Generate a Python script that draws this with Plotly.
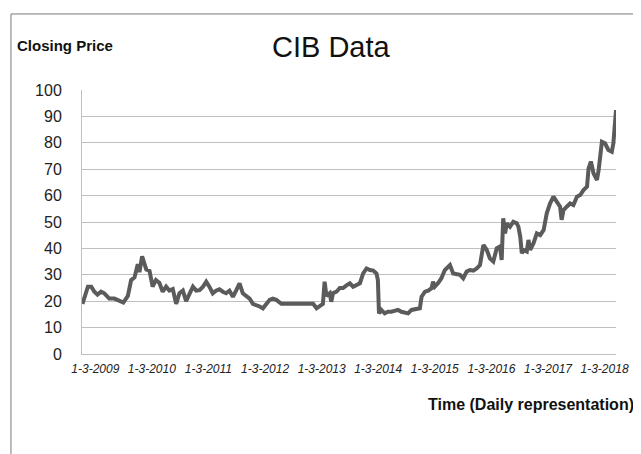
import plotly.graph_objects as go

dates = [
    "2008-12-08", "2009-01-12", "2009-02-03", "2009-02-23", "2009-03-15", "2009-04-07", "2009-04-28",
    "2009-05-30", "2009-07-02", "2009-08-04", "2009-08-29", "2009-09-27", "2009-10-18", "2009-11-09",
    "2009-11-30", "2009-12-11", "2009-12-28", "2010-01-24", "2010-02-14", "2010-03-06", "2010-03-27",
    "2010-04-18", "2010-05-10", "2010-06-01", "2010-06-22", "2010-07-14", "2010-08-05", "2010-08-26",
    "2010-09-17", "2010-10-08", "2010-10-30", "2010-11-21", "2010-12-12", "2011-01-03", "2011-01-25",
    "2011-02-15", "2011-03-07", "2011-03-29", "2011-04-19", "2011-05-11", "2011-06-02", "2011-06-23",
    "2011-07-15", "2011-08-06", "2011-08-27", "2011-09-18", "2011-10-09", "2011-11-01", "2011-11-22",
    "2011-12-13", "2012-01-05", "2012-01-26", "2012-02-16", "2012-03-08", "2012-03-30", "2012-04-20",
    "2012-05-12", "2012-06-14", "2012-08-07", "2012-09-19", "2012-11-12", "2013-01-05", "2013-01-27",
    "2013-02-21", "2013-03-09", "2013-03-20", "2013-04-01", "2013-04-22", "2013-05-02", "2013-05-13",
    "2013-06-05", "2013-06-26", "2013-07-17", "2013-08-08", "2013-08-30", "2013-09-20", "2013-10-12",
    "2013-11-03", "2013-11-24", "2013-12-16", "2014-01-07", "2014-01-28", "2014-02-18", "2014-02-27",
    "2014-03-06", "2014-03-21", "2014-04-12", "2014-05-03", "2014-05-25", "2014-06-15", "2014-07-07",
    "2014-07-29", "2014-08-20", "2014-09-10", "2014-10-02", "2014-11-04", "2014-11-25", "2014-12-06",
    "2014-12-28", "2015-01-18", "2015-02-09", "2015-02-18", "2015-03-01", "2015-03-22", "2015-04-13",
    "2015-05-05", "2015-06-07", "2015-06-28", "2015-07-20", "2015-08-11", "2015-09-01", "2015-09-23",
    "2015-10-14", "2015-11-05", "2015-11-27", "2015-12-18", "2016-01-09", "2016-01-31", "2016-02-20",
    "2016-03-13", "2016-04-04", "2016-04-25", "2016-05-06", "2016-05-16", "2016-05-28", "2016-06-08",
    "2016-06-29", "2016-07-20", "2016-08-12", "2016-08-22", "2016-09-03", "2016-09-13", "2016-09-24",
    "2016-10-15", "2016-10-26", "2016-11-06", "2016-11-27", "2016-12-19", "2017-01-10", "2017-02-01",
    "2017-02-21", "2017-03-14", "2017-04-05", "2017-04-26", "2017-05-18", "2017-05-28", "2017-06-09",
    "2017-06-30", "2017-07-22", "2017-08-12", "2017-09-04", "2017-09-25", "2017-10-16", "2017-11-08",
    "2017-11-18", "2017-12-03", "2017-12-20", "2018-01-11", "2018-01-22", "2018-02-12", "2018-03-04",
    "2018-03-26", "2018-04-17", "2018-04-27", "2018-05-08", "2018-05-14",
]

closing_price = [
    19.0, 25.5, 25.5, 23.6, 22.5, 23.6, 23.0,
    21.0, 21.0, 20.3, 19.5, 22.0, 28.0, 29.0,
    34.0, 31.0, 37.0, 32.0, 31.5, 25.5, 28.0,
    27.0, 23.6, 25.5, 24.0, 24.6, 19.0, 23.0,
    24.0, 20.0, 23.0, 25.5, 24.0, 24.2, 25.5,
    27.4, 25.5, 23.0, 24.0, 24.5, 23.6, 23.0,
    24.0, 21.7, 24.0, 26.8, 23.0, 21.7, 21.0,
    19.0, 18.6, 18.0, 17.3, 19.0, 20.5, 21.0,
    20.5, 19.0, 19.0, 19.0, 18.8, 19.0, 17.3,
    18.5, 19.0, 27.4, 22.0, 23.0, 19.8, 23.0,
    23.6, 25.0, 25.0, 26.0, 26.8, 25.5, 26.0,
    26.8, 30.5, 32.4, 31.8, 31.6, 30.5, 28.0,
    15.4, 16.7, 15.4, 16.0, 16.0, 16.3, 16.7,
    16.0, 15.7, 15.4, 16.7, 17.0, 17.3, 21.7,
    23.6, 24.0, 25.0, 27.4, 25.5, 26.8, 28.7,
    31.8, 33.7, 30.5, 30.3, 30.0, 28.7, 31.2,
    31.8, 31.6, 32.4, 33.7, 41.3, 39.4, 36.2,
    35.0, 40.0, 40.7, 35.6, 51.4, 45.7, 49.5,
    48.2, 50.1, 49.5, 48.2, 44.4, 38.1, 39.4,
    38.8, 43.2, 39.4, 41.9, 45.7, 45.0, 47.0,
    53.3, 57.0, 59.6, 57.7, 55.8, 50.8, 54.5,
    55.8, 57.0, 56.4, 59.6, 60.2, 62.1, 63.4,
    70.3, 72.9, 68.4, 65.9, 69.7, 80.4, 79.8,
    77.3, 76.6, 79.8, 89.3, 92.4,
]

tick_dates = ["2009-03-01", "2010-03-01", "2011-03-01", "2012-03-01", "2013-03-01",
              "2014-03-01", "2015-03-01", "2016-03-01", "2017-03-01", "2018-03-01"]
tick_labels = ["1-3-2009", "1-3-2010", "1-3-2011", "1-3-2012", "1-3-2013",
               "1-3-2014", "1-3-2015", "1-3-2016", "1-3-2017", "1-3-2018"]
y_ticks = [0, 10, 20, 30, 40, 50, 60, 70, 80, 90, 100]

FONT = "Liberation Sans, Arial, sans-serif"

fig = go.Figure()
fig.add_trace(go.Scatter(
    x=dates, y=closing_price, mode="lines",
    line=dict(color="#5b5b5b", width=4),
    showlegend=False, hoverinfo="skip",
))

fig.update_layout(
    width=641, height=454,
    margin=dict(l=74, r=33, t=82, b=108),
    paper_bgcolor="white", plot_bgcolor="white",
    font=dict(family=FONT, color="#222222"),
    xaxis=dict(
        type="date",
        range=["2008-12-05", "2018-05-14"],
        tickmode="array", tickvals=tick_dates, ticktext=tick_labels,
        tickfont=dict(family=FONT, size=12, color="#222222", style="italic"),
        showgrid=False, zeroline=False,
        showline=True, linecolor="#bfbfbf", linewidth=1,
        ticks="", ticklabelstandoff=4,
    ),
    yaxis=dict(
        range=[0, 100], tickmode="array", tickvals=y_ticks,
        tickfont=dict(family=FONT, size=16, color="#222222"),
        showgrid=True, gridcolor="#bfbfbf", gridwidth=1,
        zeroline=False, showline=True, linecolor="#bfbfbf", linewidth=1,
        ticks="", ticklabelstandoff=16,
    ),
    annotations=[
        dict(text="<b>Closing Price</b>", x=-0.1255, y=1.170, xref="paper", yref="paper",
             xanchor="left", yanchor="middle", showarrow=False,
             font=dict(family=FONT, size=15, color="#111111")),
        dict(text="CIB Data", x=0.468, y=1.163, xref="paper", yref="paper",
             xanchor="center", yanchor="middle", showarrow=False,
             font=dict(family=FONT, size=29, color="#111111")),
        dict(text="<b>Time (Daily representation)</b>", x=1.037, y=-0.193, xref="paper", yref="paper",
             xanchor="right", yanchor="middle", showarrow=False,
             font=dict(family=FONT, size=16, color="#111111")),
    ],
    shapes=[
        dict(type="line", xref="paper", yref="paper", x0=-0.133, x1=1.2, y0=1.288, y1=1.288,
             line=dict(color="#7a7a7a", width=1)),
        dict(type="line", xref="paper", yref="paper", x0=-0.133, x1=-0.133, y0=1.288, y1=-0.45,
             line=dict(color="#7a7a7a", width=1)),
    ],
)

fig.write_html("out.html")
